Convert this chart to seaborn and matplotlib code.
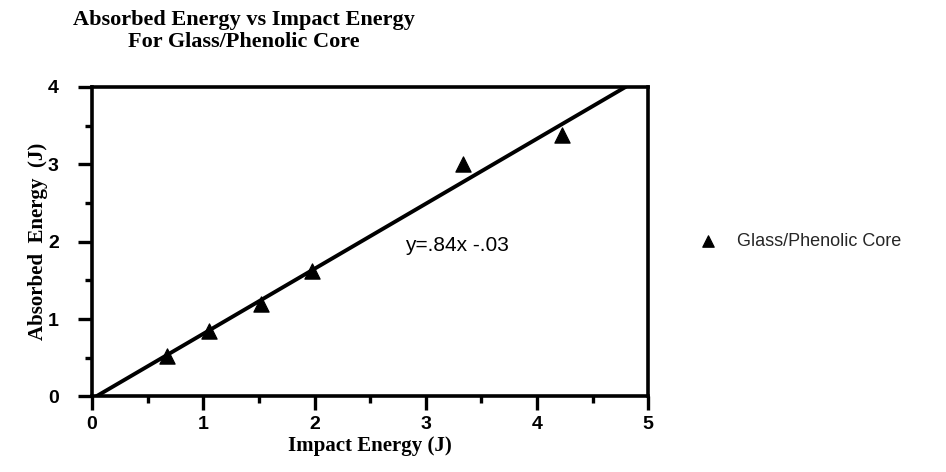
import matplotlib
matplotlib.use("Agg")
import matplotlib.pyplot as plt
import seaborn as sns
import numpy as np
from matplotlib.ticker import MultipleLocator

sns.set_theme(style="ticks")

# data
impact_energy = [0.67, 1.05, 1.52, 1.98, 3.33, 4.22]
absorbed_energy = [0.52, 0.84, 1.20, 1.62, 3.00, 3.38]
series_name = "Glass/Phenolic Core"
slope = 0.84
intercept = -0.03
fit_label = "y=.84x -.03"

serif = ["Liberation Serif", "DejaVu Serif"]
sans = ["Liberation Sans", "DejaVu Sans"]

fig = plt.figure(figsize=(9.46, 4.72), dpi=100)
ax = fig.add_axes([0.0973, 0.160, 0.588, 0.656])

# fitted line
fit_x = np.array([0.036, 4.80])
ax.plot(fit_x, slope * fit_x + intercept, color="black", lw=2.8, clip_on=True)

sns.scatterplot(x=impact_energy, y=absorbed_energy, marker="^", s=120,
                color="black", edgecolor="black", ax=ax, label=series_name,
                zorder=3)

ax.set_xlim(0, 5)
ax.set_ylim(0, 4)
ax.xaxis.set_major_locator(MultipleLocator(1))
ax.xaxis.set_minor_locator(MultipleLocator(0.5))
ax.yaxis.set_major_locator(MultipleLocator(1))
ax.yaxis.set_minor_locator(MultipleLocator(0.5))

for s in ax.spines.values():
    s.set_linewidth(2.6)
    s.set_color("black")

ax.tick_params(which="major", direction="out", length=10, width=2.4, color="black",
               labelsize=14)
ax.tick_params(axis="y", which="major", pad=14)
ax.tick_params(axis="x", which="major", pad=4)
ax.tick_params(which="minor", direction="out", length=5, width=2.4, color="black")
for lab in ax.get_xticklabels() + ax.get_yticklabels():
    lab.set_fontfamily(sans)
    lab.set_fontweight("bold")
    lab.set_color("black")

ax.set_xlabel("Impact Energy (J)", fontfamily=serif, fontweight="bold",
              fontsize=15, color="black", labelpad=2)
ax.set_ylabel("Absorbed  Energy  (J)", fontfamily=serif, fontweight="bold",
              fontsize=15, color="black", labelpad=0)

ax.text(2.81, 1.95, fit_label, fontfamily=sans, fontsize=15, color="black",
        va="center", ha="left")

fig.text(0.258, 0.934, "Absorbed Energy vs Impact Energy\nFor Glass/Phenolic Core",
         fontfamily=serif, fontweight="bold", fontsize=16, ha="center", va="center",
         linespacing=1.15, color="black")

leg = ax.legend(loc="center left", bbox_to_anchor=(1.045, 0.5), frameon=False,
                handletextpad=0.6, markerscale=0.75,
                prop={"family": sans, "size": 13})

fig.savefig("out.png", dpi=100)
